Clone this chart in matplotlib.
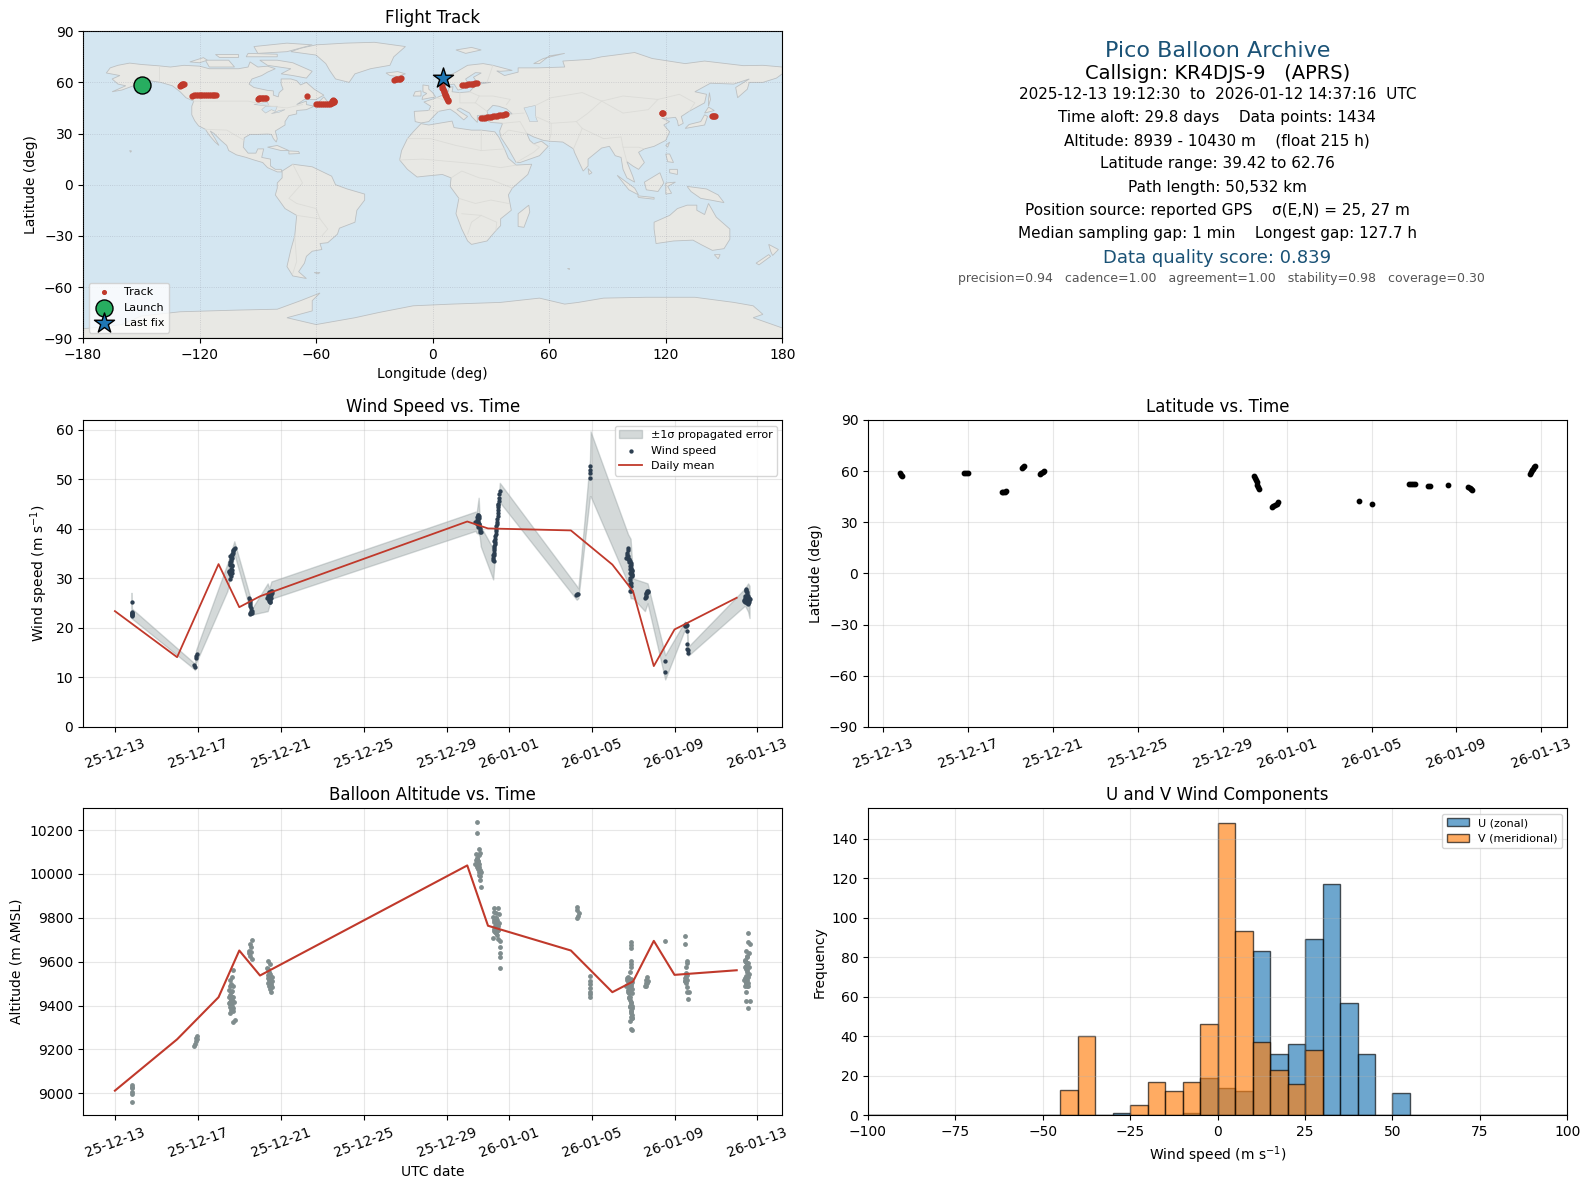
import datetime as dt
import numpy as np
import matplotlib
matplotlib.use('Agg')
import matplotlib.pyplot as plt
import matplotlib.dates as mdates

# --- map outlines (lon, lat) ---
NORTH_AMERICA = [(-168,65.5),(-166,68.5),(-162,70),(-156,71.3),(-150,70.5),(-141,69.7),(-135,69),(-128,70),(-120,69.5),(-115,68),(-108,68),(-100,68),(-95,69),(-94,72),(-90,69),(-85,69.5),(-81,68),(-85,66),(-88,64),(-93,62),(-94.5,59),(-92,57),(-85,55.3),(-82,55),(-82,52.5),(-79.5,51.5),(-79,54),(-77,56),(-78,59),(-78,62),(-73,62),(-70,61),(-68,58.5),(-65,60),(-61,56),(-56,52.5),(-60,50),(-66,50),(-70,47),(-65,49),(-65,47),(-61,46),(-65,44),(-70,43.5),(-70,41.5),(-74,40.5),(-76,37),(-76,35),(-81,31.5),(-80,27),(-80.5,25),(-82,27),(-83,29.5),(-85,29.7),(-90,29.5),(-94,29.5),(-97,27.5),(-97.5,22),(-95,18.5),(-91,18.5),(-90,21),(-87,21),(-88,16),(-83.5,15),(-83.5,11),(-81,9),(-78,9),(-77.5,7.5),(-80,7.5),(-85,10),(-87.5,13),(-92,14.5),(-96,16),(-101,17.5),(-105,20),(-106,23),(-109,26),(-112.5,30),(-114.5,31.5),(-112,27),(-110,23),(-112,25),(-115,29),(-117,32.5),(-120.5,34.5),(-122.5,37.5),(-124,41),(-124,46),(-123,49),(-127,51),(-130,54.5),(-134,58),(-140,60),(-146,61),(-151,60),(-154,58),(-160,55.5),(-165,54.5),(-158,58),(-162,59),(-165,62),(-161,64)]
GREENLAND = [(-73,78),(-68,80),(-60,82),(-45,83),(-30,83.5),(-14,81),(-20,75),(-22,70),(-32,68),(-40,65),(-43,60),(-50,62),(-53,67),(-55,71),(-60,76)]
SOUTH_AMERICA = [(-77.5,8),(-72,12),(-62,10.5),(-52,5),(-50,0),(-44,-2.5),(-35,-5.5),(-35,-9),(-39,-15),(-40,-22),(-48,-25.5),(-49,-29),(-54,-34),(-58,-34.5),(-57,-38),(-62,-39),(-65,-42),(-66,-46),(-69,-51),(-65,-55),(-72,-53.5),(-75,-48),(-73,-38),(-71,-30),(-70,-18),(-76,-14),(-81,-6),(-80,-2),(-80,1),(-77.5,4)]
AFRICA = [(-6,35.8),(-2,35),(10,37.3),(11,33.5),(20,32),(25,32),(32,31),(34,28),(37,21),(39,15.5),(43,11.5),(51,12),(49,6),(41,-2),(39,-6),(40.5,-15),(35,-20),(35,-24),(32.5,-27),(28,-33),(20,-35),(18,-33),(15,-26),(12,-17),(13.5,-8),(9,-1),(9.5,4),(5,6),(-4,5),(-8,4.5),(-13,9),(-17,14.5),(-16,20),(-13,27),(-10,31)]
EURASIA = [(-9,37),(-9.5,43),(-2,43.5),(-1,46),(-4.5,48.5),(2,51),(8,54),(8.5,57),(10.5,57.5),(10,54.5),(14,54),(19,54.5),(21,57),(24,59),(30,60),(23,60),(21,63),(25,65.5),(22,65.7),(17,62),(18,59.5),(15,56),(13,55.5),(11,59),(6,58),(5,62),(12,66),(18,70),(26,71),(31,70),(41,67),(35,66.5),(33,66.7),(37,64),(44,66),(44,68.5),(54,68.5),(68,69),(67,72.5),(74,73),(81,73.5),(87,75),(104,77.5),(113,74),(130,71),(140,72.5),(160,69.8),(170,70),(180,69),(180,65),(177,62.5),(170,60),(163,60),(162,56),(157,51),(156,57),(163,62),(155,59),(143,59.5),(135,54.5),(141,53),(140,48),(132,43),(128,40),(129,36),(126.5,34.5),(126,37.5),(125,39.5),(121,39),(118,39),(122,37),(119,35),(122,31),(120,26),(114,22.5),(109,21),(106,19),(109,13),(106,9),(103,11),(100,13.5),(103,5),(104,1.5),(100,4),(98,9),(97,16),(94,17),(91,22.5),(87,21.5),(80,15),(80,11),(77.5,8),(73,19),(72.5,21),(67,25),(60,25.5),(57,26),(52,28),(48.5,30),(50,26),(52,24),(56,25.5),(59.5,22.5),(55,17),(45,13),(43,13),(39,21),(35,28),(34.5,31.5),(36,36),(30,36.5),(26.5,38.5),(26.5,40.5),(31,41),(36,41.5),(41,41.5),(38,44.5),(34,46),(31,46.5),(28,43),(28.5,41),(23,40.5),(23,36.5),(20,40),(19,42),(14,45),(12.5,44),(18,40),(16,38),(12,42),(9,44.3),(3,43),(0,39.5),(-2,37),(-6,36.2)]
AUSTRALIA = [(114,-22),(122,-18),(126,-14),(131,-12),(136,-12),(136,-15),(140,-17.5),(142,-11),(146,-19),(153,-26),(153,-32),(150,-37.5),(144,-38.5),(138,-35),(134,-32.5),(124,-33),(115,-34.5),(114,-26)]
ANTARCTICA = [(-180,-90),(-180,-84.5),(-160,-82),(-150,-77),(-130,-74.5),(-100,-73.5),(-80,-73),(-68,-68),(-58,-63.5),(-62,-68),(-62,-74),(-75,-78),(-60,-82),(-40,-78),(-28,-75),(-10,-71),(10,-70),(35,-69),(55,-66.5),(68,-70),(75,-69),(88,-66.5),(110,-66),(135,-66),(155,-69),(165,-71),(170,-76),(165,-78),(180,-84),(180,-90)]
ISLANDS = [
    [(-80,73),(-72,71.5),(-62,66.5),(-65,62.5),(-72,64),(-78,65),(-73,68),(-85,70),(-89,73)],
    [(-117,73),(-105,73),(-102,69),(-115,69)],
    [(-90,77),(-75,78),(-62,82),(-75,83),(-92,81)],
    [(-125,72),(-118,74.5),(-116,73),(-120,71.5)],
    [(-96,75),(-80,75),(-80,76.5),(-95,77)],
    [(-110,75),(-100,75),(-100,76.5),(-112,76.5)],
    [(-59,48),(-56,51.5),(-53,47)],
    [(-85,22),(-80,23),(-74,20),(-78,20)],
    [(-74,19.8),(-69,19.5),(-68.5,18.3),(-74,18)],
    [(-156,20),(-155,19.8),(-155.5,19)],
    [(-61,-51.5),(-58,-51.5),(-59,-52.3)],
    [(-5.5,50),(1.5,51.5),(0,54),(-2,56),(-2,58),(-5,58.5),(-5,54.5),(-3,53.5),(-5,52)],
    [(-10,52),(-6,52),(-6,55),(-9,54.5)],
    [(-24,65.5),(-18,66.3),(-14,65),(-18,63.5),(-22,64)],
    [(12,79),(20,80.5),(25,79),(17,77)],
    [(52,71),(57,74),(68,77),(60,75.5),(55,71)],
    [(130,33),(135,34),(140,35),(141.5,40),(140,41),(138,37),(132,35.3)],
    [(140,42),(145,43.5),(142,45.5)],
    [(142,46),(143,50),(142.5,54),(142,50)],
    [(120,23),(122,25),(121,22)],
    [(80,9.5),(82,7),(80.5,6)],
    [(120,18),(122,18),(124,13),(121,13.5)],
    [(122,9),(126,9),(126,6),(122,7)],
    [(95,5.5),(104,-2),(106,-6),(101,-3)],
    [(105.5,-6.5),(114,-7.5),(114,-8.5),(106,-7.5)],
    [(109,1.5),(117,7),(119,1),(116,-4),(110,-3)],
    [(120,1),(125,1.5),(121,-1),(123,-5),(120,-5.5)],
    [(131,-1),(141,-2.5),(147,-6),(150,-10.5),(143,-9),(138,-8),(133,-4)],
    [(49.5,-12),(50,-16),(47,-25),(44,-24.5),(44,-17)],
    [(145,-41),(148,-41),(147,-43.5)],
    [(173,-35),(178,-38),(175,-41.5),(174,-39)],
    [(173,-41),(174,-42),(168,-47),(166.5,-46)],
    [(69,-49),(70,-49),(70,-49.7)],
]
CASPIAN = [(47,45),(53,46.5),(53,40),(54,37),(50,37),(49,40)]
LAKES = [
    [(-92,47),(-85,48.5),(-84.5,46.5),(-88,46.5)],
    [(-88,44),(-86,46),(-80,46),(-81,43),(-83,44),(-86,42)],
    [(-83,41.7),(-79,43.5),(-76,44),(-79,42.5)],
]
BORDERS = [
    [(-123,49),(-95,49),(-83,46),(-75,45),(-67,47)],
    [(-141,69.7),(-141,60)],
    [(-117,32.5),(-106,32),(-97,26)],
    [(-70,-18),(-58,-20),(-54,-26),(-57,-30)],
    [(-72,12),(-67,1),(-74,-8),(-70,-11),(-60,-14),(-58,-20)],
    [(-71,-30),(-70,-45),(-72,-52)],
    [(-13,27),(-1,27),(12,23),(25,20),(25,32)],
    [(25,20),(37,21)],
    [(-17,14.5),(-5,15),(15,13),(24,12),(35,10),(43,11.5)],
    [(9.5,4),(15,8),(24,4),(30,3),(41,-2)],
    [(13.5,-8),(22,-11),(30,-9),(39,-11)],
    [(15,-17),(25,-18),(33,-22),(32.5,-27)],
    [(18,-29),(20,-22),(25,-18)],
    [(3,43),(-2,43.5)],
    [(2,51),(8,49),(8,54)],
    [(14,54),(14,48),(22,48),(24,52),(19,54.5)],
    [(28,43),(22,48)],
    [(24,52),(31,52),(40,50),(38,47)],
    [(31,70),(28,60)],
    [(36,36),(45,37),(48.5,30)],
    [(47,42),(41,41.5)],
    [(53,40),(61,36),(61,30),(60,25.5)],
    [(61,36),(74,37),(77,33),(72.5,21)],
    [(53,46.5),(61,51),(77,54),(87,49),(98,52),(116,50),(127,53),(135,48),(132,43)],
    [(87,49),(80,42),(74,37)],
    [(87,49),(98,42),(111,44),(116,50)],
    [(77,33),(88,27),(97,28),(98,22),(106,22),(109,21)],
    [(98,22),(100,13.5)],
    [(35,28),(39,32),(48.5,30)],
    [(43,13),(52,19),(55,22),(52,24)],
]

# --- flight track ---
TRACK_LON = [-130.2,-129.8,-129.5,-129.1,-128.8,-128.5,-128.2,-123.7,-123,-122,-121,-120,-119,-118,-117,-116,-115,-114,-113,-112.5,-111.7,
             -90.1,-89.5,-88.8,-88,-87.2,-86.5,-86,-64.5,-60,-59,-58,-57,-56,-55,-54,-53,-52.5,-51.8,-51,-50.6,-51.5,-52,-51.2,-50.8,
             -19.9,-19,-18.2,-17.5,-16.8,-16.3,4.6,4.9,5.2,5.6,5.9,6.2,6.5,6.8,7.1,7.4,7.7,7.9,
             15.3,16,17,18,19,20,21,22,23,24.9,26,27,28,29,30,31,32,33,34,35,36,37,37.6,117.9,118.2,118.5,144,144.4,144.8,145.2]
TRACK_LAT = [58,58.2,58.4,58.6,58.8,59,59.1,52.2,52.3,52.3,52.4,52.4,52.4,52.4,52.4,52.4,52.4,52.4,52.4,52.4,52.4,
             50.4,50.6,50.7,50.8,50.7,50.6,50.6,51.9,47.2,47.1,47.1,47.2,47.2,47.3,47.4,47.6,47.8,48,48.2,48.8,49.7,49.2,48.5,49,
             61.5,61.7,61.8,62,62.1,62.3,57.6,56.8,56,55,54.3,53.4,52.7,51.8,51.2,50.4,49.7,49.2,
             58.3,58.5,58.7,58.9,59,59.2,59.3,59.5,59.6,39,39.2,39.3,39.5,39.6,39.8,40,40.2,40.4,40.6,40.8,41,41.2,41.3,41.9,41.9,41.9,40.2,40.2,40.2,40.2]
LAUNCH_LON = [-149.6]
LAUNCH_LAT = [58.3]
LAST_LON = [5.3]
LAST_LAT = [62.8]

# --- time series, days after 2025-12-13 00:00 UTC ---
MEAN_DAYS = [0,3,5,6,7,17,18,22,24,25,26,27,30]
WIND_MEAN = [23.4,14.1,32.9,24.2,26.4,41.5,40.1,39.7,32.8,27.4,12.3,19.7,26.1]
ALT_MEAN = [9012,9246,9438,9651,9537,10039,9764,9651,9461,9510,9695,9540,9561]

WIND_DAYS = [.82,.82,.82,.82,.82,.82,.81,.83,3.81,3.86,3.89,3.92,3.95,
             5.54,5.49,5.65,5.56,5.53,5.65,5.57,5.62,5.56,5.65,5.69,5.75,5.78,
             5.5,5.58,5.6,5.63,5.55,5.6,5.66,5.63,5.68,5.72,5.58,5.55,5.64,
             6.49,6.51,6.52,6.55,6.55,6.6,6.52,6.5,6.53,6.57,6.6,6.54,
             7.53,7.45,7.37,7.49,7.33,7.53,7.42,7.49,7.38,7.4,7.43,7.47,7.5,7.53,7.56,7.58,7.45,7.5,7.42,
             17.53,17.49,17.57,17.45,17.54,17.38,17.49,17.57,17.62,17.65,
             17.5,17.52,17.55,17.58,17.6,17.62,17.45,17.5,17.56,17.53,
             18.25,18.25,18.3,18.28,18.31,18.35,18.38,18.41,18.44,18.46,18.49,18.49,18.54,18.57,
             18.26,18.28,18.3,18.32,18.33,18.37,18.39,18.43,18.45,18.47,18.48,18.5,18.52,18.55,18.27,18.3,18.34,
             22.31,22.36,22.27,22.94,22.94,22.94,22.94,
             24.76,24.72,24.77,24.68,24.8,24.88,24.84,24.93,24.88,24.96,24.85,24.88,24.88,24.88,24.84,
             24.74,24.7,24.75,24.78,24.82,24.86,24.9,24.84,24.92,24.88,24.95,24.9,24.93,24.96,24.83,24.86,24.87,
             25.68,25.64,25.61,25.57,25.73,25.62,25.66,25.6,25.7,26.55,26.55,
             27.54,27.58,27.49,27.61,27.61,27.61,27.66,27.66,27.52,27.56,
             30.46,30.51,30.4,30.59,30.35,30.51,30.43,30.56,30.49,
             30.44,30.47,30.5,30.42,30.46,30.54,30.58,30.6,30.62,30.37,30.4,30.44,30.5,30.53,30.56,30.6,30.48]
WIND_SPEED = [25.25,23.2,23,22.8,22.6,22.4,23.1,22.6,12.6,12.1,13.9,14.3,14.8,
              29.8,31.6,31.8,31.1,32.8,32.8,33.3,33.9,34.5,34.8,35.5,36,36.2,
              31.4,31.9,31.5,32.5,33,33.6,34.2,35,35.2,35.8,30.4,30.8,31.2,
              26.1,25.7,24.9,24,23.4,23,22.8,25.3,24.4,23.1,23.4,23.1,
              27.4,27.2,26.4,26.4,26.1,26.7,25.7,25.3,26,26.8,26.2,25.7,27,26,27.4,27,25.4,25.3,26.7,
              42.9,42.4,42.2,41.8,41.5,41.5,40.9,40.5,39.7,39.3,
              42,41.5,42.6,41,40.2,39.4,41.2,40.4,40.9,42.8,
              33.8,34.8,35.8,36.5,37.5,38.5,39.5,40.5,41.5,42.6,43.9,44.9,46.3,47.7,
              34.2,35.2,36.2,37,38,39,40,41,42.1,43.2,44.4,45,45.6,47,33.5,34.8,37.4,
              26.9,26.9,26.7,52.7,52,51.3,50.3,
              36.2,35.2,34.5,34.1,33.8,33.1,32.5,31.8,31.1,30.6,30.1,29.1,28.4,27.4,27.5,
              35.7,34.8,34,33.4,34,33.5,32.8,32,32.2,31.5,31.5,30.8,30.4,31,31.2,29.6,28.8,
              27.4,27.1,26.4,26.1,27.4,26.8,27.2,26.2,27.3,13.3,11.1,
              20.9,20.5,20.3,19.4,16.8,15.8,15.5,14.9,20.7,20.4,
              27.6,26.9,26.1,25.9,25.5,25.5,25.2,25.1,26.4,
              27.4,27.8,27.2,26.5,26.2,26.4,26,25.7,25.8,25.6,25.2,25.4,25,25.4,24.9,25.3,25.9]

BAND_DAYS = [.80,.82,3.80,3.86,3.92,5.43,5.76,6.50,6.60,7.37,7.45,7.55,17.40,17.45,17.55,17.60,17.65,18.25,18.45,18.57,22.28,22.36,22.92,22.95,24.76,24.88,25.0,25.57,25.7,26.55,27.5,27.6,27.66,30.4,30.55,30.62]
BAND_LOW = [23.2,21.9,11.8,11.5,13,27.5,35,24,22.7,23.4,24.5,25.9,39.6,39.2,39,38.5,36.5,29.8,41,45.4,25.7,26,46.6,46.6,29,26,26,23.4,25,9.6,19.7,19,14.4,24.5,23.3,22]
BAND_HIGH = [27.1,23.9,13,12.8,15.6,33,37.5,26.6,23.8,29,28,29.4,43.5,43.2,46.3,42,40.5,36,43,49.3,28.5,28,54,59.7,38.9,38,30,29.2,29,14.5,21.3,20.5,16.2,28,29,28.5]

LAT_DAYS = [.8,.84,.88,3.8,3.89,3.97,5.59,5.65,5.72,5.8,6.54,6.58,6.62,7.37,7.45,7.52,7.58,17.46,17.5,17.54,17.58,17.62,17.66,17.69,18.3,18.38,18.46,18.54,18.61,22.39,23,24.75,24.85,24.95,25.06,25.68,25.75,26.62,27.56,27.62,27.7,27.75,30.46,30.5,30.55,30.6,30.65,30.69]
LAT_VALUES = [58.8,58,57.3,58.8,58.8,58.8,47.6,47.7,47.9,48.4,61.8,62.3,62.8,58.6,59,59.6,60,57.2,56,54.7,53.4,52,50.6,49.6,39.2,39.4,40,40.8,41.8,42.3,40.6,52.3,52.3,52.3,52.3,51.2,51.2,51.8,50.8,50,49.3,48.8,58.4,59.5,60.4,61.5,62.3,63]

ALT_DAYS = [.82,.82,.82,.82,.82,.82,3.82,3.86,3.89,3.92,3.97,3.94,
            5.69,5.65,5.56,5.69,5.56,5.59,5.56,5.72,5.61,5.49,5.75,5.62,5.53,5.69,5.56,5.72,5.78,5.72,5.53,5.65,
            5.52,5.58,5.6,5.66,5.54,5.62,5.67,5.5,5.6,5.64,5.58,5.64,
            6.6,6.52,6.57,6.49,6.55,6.52,6.62,6.49,
            7.37,7.49,7.33,7.45,7.37,7.53,7.42,7.58,7.45,7.58,7.51,7.41,
            7.38,7.44,7.5,7.55,7.48,7.52,7.57,7.4,7.46,
            17.49,17.45,17.59,17.41,17.62,17.49,17.38,17.54,17.57,17.49,17.65,17.57,17.62,17.65,17.45,
            17.45,17.52,17.55,17.5,17.57,17.6,17.6,17.55,17.62,17.4,17.48,
            18.28,18.46,18.54,18.25,18.41,18.31,18.51,18.35,18.47,18.3,18.41,18.25,18.46,18.56,18.56,18.56,18.56,18.56,
            18.3,18.4,18.28,18.38,18.44,18.32,18.42,18.36,18.44,18.3,18.46,18.38,18.5,
            22.31,22.3,22.39,22.35,22.31,
            22.94,22.94,22.94,22.94,22.94,22.94,22.94,
            24.88,24.88,24.88,24.88,24.91,24.88,24.84,24.72,24.88,24.77,24.96,24.68,24.88,24.77,24.93,24.8,24.88,24.84,24.96,24.88,24.96,24.84,24.96,24.88,24.96,
            24.72,24.8,24.75,24.84,24.9,24.78,24.82,24.86,24.9,24.94,24.85,24.88,24.92,24.9,24.95,24.84,24.94,24.7,24.76,
            25.68,25.64,25.73,25.61,25.68,25.57,25.64,
            26.55,27.52,27.52,27.61,27.61,27.55,27.54,27.58,27.5,27.58,27.5,27.54,27.6,27.61,27.68,27.66,27.53,27.56,27.52,
            30.56,30.56,30.62,30.46,30.59,30.49,30.4,30.56,30.43,30.59,30.51,30.43,30.59,30.35,30.51,30.43,30.56,30.46,30.46,30.62,30.56,
            30.42,30.47,30.52,30.38,30.44,30.49,30.54,30.4,30.46,30.52,30.56,30.42,30.5]
ALT_VALUES = [9038,9030,9023,9008,8997,8962,9216,9224,9240,9251,9262,9246,
              9561,9528,9517,9491,9487,9464,9449,9438,9426,9411,9417,9407,9395,9388,9368,9373,9335,9327,9418,9441,
              9470,9430,9410,9400,9405,9380,9420,9440,9395,9425,9500,9465,
              9700,9680,9669,9651,9642,9627,9611,9638,
              9601,9589,9570,9555,9540,9529,9517,9510,9487,9484,9464,9502,
              9565,9535,9545,9500,9505,9490,9530,9525,9475,
              10236,10186,10113,10090,10095,10072,10046,10057,10034,10030,10011,9996,9973,9940,10040,
              10070,10060,10045,10025,10010,10020,9990,10085,10005,10062,10050,
              9844,9844,9818,9806,9798,9783,9776,9760,9745,9738,9730,9707,9704,9695,9666,9639,9620,9570,
              9825,9820,9790,9770,9790,9765,9750,9735,9720,9750,9765,9800,9745,
              9849,9836,9821,9809,9798,
              9537,9510,9497,9479,9464,9453,9441,
              9689,9677,9662,9604,9590,9578,9552,9525,9520,9510,9506,9487,9487,9464,9456,9433,9418,9395,9388,9373,9357,9331,9342,9294,9287,
              9495,9480,9470,9460,9500,9455,9440,9425,9410,9400,9400,9375,9365,9350,9345,9440,9475,9515,9530,
              9528,9517,9514,9502,9505,9491,9489,
              9695,9716,9680,9605,9596,9575,9550,9540,9525,9517,9510,9505,9484,9461,9461,9429,9535,9520,9512,
              9730,9688,9680,9648,9639,9624,9601,9593,9581,9575,9555,9535,9544,9517,9517,9502,9487,9464,9421,9421,9388,
              9610,9600,9590,9575,9565,9560,9530,9525,9505,9490,9505,9490,9620]

# --- histogram counts per 5 m/s bin, from -100 to 100 ---
HIST_EDGES = list(range(-100, 105, 5))
U_COUNTS = [0]*14 + [1,0,0,0,1,19,14,12,83,31,36,89,117,57,31,0,11] + [0]*9
V_COUNTS = [0]*11 + [13,40,0,0,5,17,12,17,46,148,93,37,23,16,33] + [0]*14

BASE = dt.datetime(2025, 12, 13)
DATE_TICKS = [dt.datetime(2025,12,13), dt.datetime(2025,12,17), dt.datetime(2025,12,21), dt.datetime(2025,12,25),
              dt.datetime(2025,12,29), dt.datetime(2026,1,1), dt.datetime(2026,1,5), dt.datetime(2026,1,9), dt.datetime(2026,1,13)]


def to_dates(days):
    return [BASE + dt.timedelta(days=float(d)) for d in days]


def pix_axes(fig, left, top, right, bottom):
    W, H = 1589.0, 1189.0
    return fig.add_axes([left/W, 1-bottom/H, (right-left)/W, (bottom-top)/H])


def time_axis(ax, lim):
    ax.set_xlim(BASE + dt.timedelta(days=lim[0]), BASE + dt.timedelta(days=lim[1]))
    ax.set_xticks(DATE_TICKS)
    ax.xaxis.set_major_formatter(mdates.DateFormatter('%y-%m-%d'))
    ax.tick_params(axis='x', labelrotation=20)
    ax.grid(True, alpha=0.3)


fig = plt.figure(figsize=(15.89, 11.89), dpi=100)

# flight track
ax = pix_axes(fig, 83, 31.2, 782.3, 338.2)
ax.set_facecolor('#d4e6f1')
for poly in [NORTH_AMERICA, GREENLAND, SOUTH_AMERICA, AFRICA, EURASIA, AUSTRALIA, ANTARCTICA] + ISLANDS:
    xs, ys = zip(*poly)
    ax.fill(xs, ys, facecolor='#e8e8e4', edgecolor='#bcc0c2', lw=0.6, zorder=1)
for poly in [CASPIAN] + LAKES:
    xs, ys = zip(*poly)
    ax.fill(xs, ys, facecolor='#d4e6f1', edgecolor='#bcc0c2', lw=0.4, zorder=1.1)
for line in BORDERS:
    xs, ys = zip(*line)
    ax.plot(xs, ys, color='#dcdcd8', lw=0.6, zorder=1.2)
ax.grid(True, alpha=0.3, lw=0.6, ls=':', color='#778', zorder=1.3)
ax.set_axisbelow(False)
ax.scatter(TRACK_LON, TRACK_LAT, s=12, color='#c0392b', zorder=4, label='Track')
ax.scatter(LAUNCH_LON, LAUNCH_LAT, s=150, color='#27ae60', edgecolors='black', zorder=5, label='Launch')
ax.scatter(LAST_LON, LAST_LAT, s=230, marker='*', color='#1f77b4', edgecolors='black', zorder=6, label='Last fix')
ax.set_xlim(-180, 180)
ax.set_ylim(-90, 90)
ax.set_xticks(range(-180, 181, 60))
ax.set_yticks(range(-90, 91, 30))
ax.set_xlabel('Longitude (deg)')
ax.set_ylabel('Latitude (deg)')
ax.set_title('Flight Track')
leg = ax.legend(loc='lower left', fontsize=8)
leg.legend_handles[0].set_sizes([7])

# summary panel
CX = 0.7661
INFO = [
    (51.2, 'Pico Balloon Archive', 16, '#1a5276', CX),
    (73.7, 'Callsign: KR4DJS-9   (APRS)', 14, 'black', CX),
    (94.4, '2025-12-13 19:12:30  to  2026-01-12 14:37:16  UTC', 11, 'black', CX),
    (117.7, 'Time aloft: 29.8 days    Data points: 1434', 11, 'black', CX),
    (141.1, 'Altitude: 8939 - 10430 m    (float 215 h)', 11, 'black', CX),
    (163.7, 'Latitude range: 39.42 to 62.76', 11, 'black', CX),
    (187.1, 'Path length: 50,532 km', 11, 'black', CX),
    (210.4, 'Position source: reported GPS    σ(E,N) = 25, 27 m', 11, 'black', CX),
    (233.1, 'Median sampling gap: 1 min    Longest gap: 127.7 h', 11, 'black', CX),
    (257.7, 'Data quality score: 0.839', 13, '#1a5276', CX),
    (278.2, 'precision=0.94   cadence=1.00   agreement=1.00   stability=0.98   coverage=0.30', 9, '#555555', CX + 0.0026),
]
for y, txt, size, col, cx in INFO:
    fig.text(cx, 1-y/1189.0, txt, ha='center', va='center', fontsize=size, color=col)

# wind speed
ax = pix_axes(fig, 83, 420, 782.3, 727)
ax.fill_between(to_dates(BAND_DAYS), BAND_LOW, BAND_HIGH, color='#7f8c8d', alpha=0.33, label='±1σ propagated error')
ax.scatter(to_dates(WIND_DAYS), WIND_SPEED, s=4.5, color='#2c3e50', zorder=3, label='Wind speed')
ax.plot(to_dates(MEAN_DAYS), WIND_MEAN, color='#c0392b', lw=1.3, zorder=4, label='Daily mean')
time_axis(ax, (-1.54, 32.2))
ax.set_ylim(0, 62)
ax.set_ylabel('Wind speed (m s$^{-1}$)')
ax.set_title('Wind Speed vs. Time')
ax.legend(loc='upper right', fontsize=8)

# latitude
ax = pix_axes(fig, 868, 420, 1567.3, 727)
ax.scatter(to_dates(LAT_DAYS), LAT_VALUES, s=10, color='black', zorder=3)
time_axis(ax, (-0.72, 32.22))
ax.set_ylim(-90, 90)
ax.set_yticks(range(-90, 91, 30))
ax.set_ylabel('Latitude (deg)')
ax.set_title('Latitude vs. Time')

# altitude
ax = pix_axes(fig, 83, 808.2, 782.3, 1115.2)
ax.scatter(to_dates(ALT_DAYS), ALT_VALUES, s=6, color='#7f8c8d', zorder=3)
ax.plot(to_dates(MEAN_DAYS), ALT_MEAN, color='#c0392b', lw=1.5, zorder=4)
time_axis(ax, (-1.54, 32.2))
ax.set_ylim(8900, 10300)
ax.set_yticks(range(9000, 10201, 200))
ax.set_xlabel('UTC date')
ax.set_ylabel('Altitude (m AMSL)')
ax.set_title('Balloon Altitude vs. Time')

# U / V histogram
ax = pix_axes(fig, 868, 808.2, 1567.3, 1115.2)
centers = [e + 2.5 for e in HIST_EDGES[:-1]]
ax.hist(centers, bins=HIST_EDGES, weights=U_COUNTS, color='#1f77b4', alpha=0.65, edgecolor='black', label='U (zonal)')
ax.hist(centers, bins=HIST_EDGES, weights=V_COUNTS, color='#ff7f0e', alpha=0.65, edgecolor='black', label='V (meridional)')
ax.set_xlim(-100, 100)
ax.set_ylim(0, 155.4)
ax.set_yticks(range(0, 141, 20))
ax.set_xlabel('Wind speed (m s$^{-1}$)')
ax.set_ylabel('Frequency')
ax.set_title('U and V Wind Components')
ax.grid(True, alpha=0.3)
ax.legend(loc='upper right', fontsize=8)

fig.savefig('out.png', dpi=100)
